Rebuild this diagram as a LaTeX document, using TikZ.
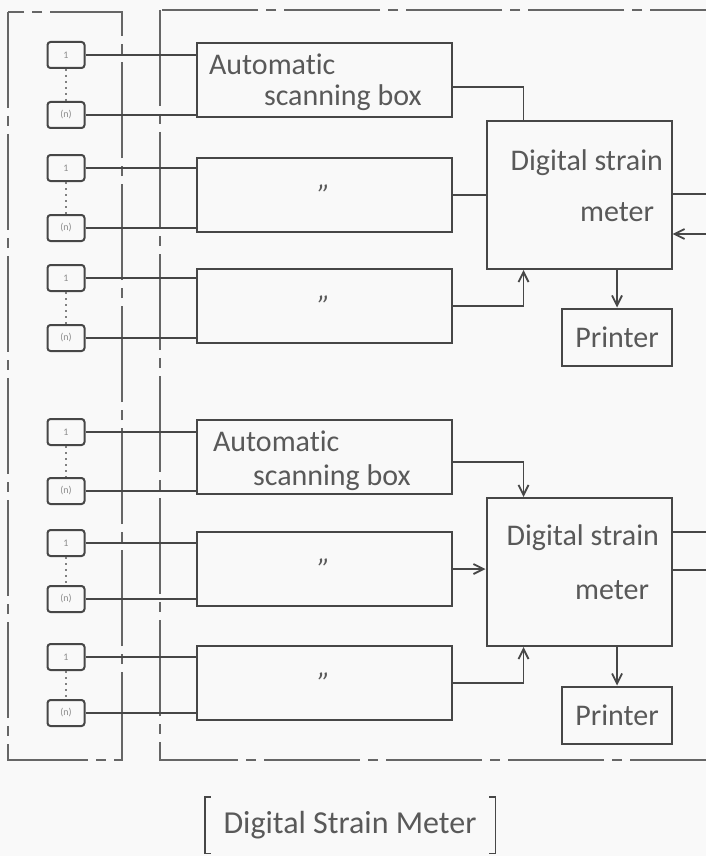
\documentclass[tikz,border=0pt]{standalone}
\usepackage{fontspec}
\setmainfont[Ligatures={TeX,NoCommon}]{Carlito}
\usetikzlibrary{positioning,arrows.meta}

\def\u{0.5pt}

\begin{document}
\begin{tikzpicture}[x=0.5pt,y=-0.5pt,
  every node/.style={font=\fontsize{15}{17}\selectfont, text=black!65},
  boxline/.style={draw=black!72, line width=1pt},
  sensor/.style={boxline, rounded corners=1.5pt, minimum width=37*\u, minimum height=26*\u, inner sep=0pt, font=\fontsize{5}{6}\selectfont, text=black!45},
  scanbox/.style={boxline, minimum width=255*\u, minimum height=74*\u, inner sep=0pt},
  meterbox/.style={boxline, minimum width=185*\u, minimum height=148*\u, inner sep=0pt},
  printbox/.style={boxline, minimum width=110*\u, minimum height=57*\u, inner sep=0pt},
  frame/.style={draw=black!60, line width=0.9pt, dash pattern=on 48pt off 4pt on 5pt off 4pt},
  link/.style={draw=black!72, line width=0.9pt},
  >={Straight Barb[length=5pt,width=5pt]}
]
\useasboundingbox (0,0) rectangle (706,856);
\clip (0,0) rectangle (706,856);
\fill[gray!5] (0,0) rectangle (706,856);

% frames
\draw[frame] (8,12) rectangle (122,760);
\draw[frame] (160,10) rectangle (740,760);

% sensors
\node[sensor] (s1) at (66,55) {1};
\node[sensor] (s2) at (66,115) {(n)};
\node[sensor] (s3) at (66,168) {1};
\node[sensor] (s4) at (66,228) {(n)};
\node[sensor] (s5) at (66,278) {1};
\node[sensor] (s6) at (66,338) {(n)};
\node[sensor] (s7) at (66,432) {1};
\node[sensor] (s8) at (66,491) {(n)};
\node[sensor] (s9) at (66,543) {1};
\node[sensor] (s10) at (66,599) {(n)};
\node[sensor] (s11) at (66,657) {1};
\node[sensor] (s12) at (66,713) {(n)};

\draw[black!50, dotted, line width=1pt] (s1.south) -- (s2.north);
\draw[black!50, dotted, line width=1pt] (s3.south) -- (s4.north);
\draw[black!50, dotted, line width=1pt] (s5.south) -- (s6.north);
\draw[black!50, dotted, line width=1pt] (s7.south) -- (s8.north);
\draw[black!50, dotted, line width=1pt] (s9.south) -- (s10.north);
\draw[black!50, dotted, line width=1pt] (s11.south) -- (s12.north);

% scanning boxes
\node[scanbox] (sc1) at (324,80) {};
\node[anchor=west] (sc1a) at (202,64) {Automatic};
\node[anchor=west] (sc1b) at (257,98) {scanning box};
\node[scanbox] (sc2) at (324,195) {\itshape ''};
\node[scanbox] (sc3) at (324,306) {\itshape ''};

\node[scanbox] (sc4) at (324,457) {};
\node[anchor=west] (sc4a) at (206,441) {Automatic};
\node[anchor=west] (sc4b) at (246,478) {scanning box};
\node[scanbox] (sc5) at (324,569) {\itshape ''};
\node[scanbox] (sc6) at (324,683) {\itshape ''};

% sensor lines
\draw[link] (s1.east) -- (s1.east -| sc1.west);
\draw[link] (s2.east) -- (s2.east -| sc1.west);
\draw[link] (s3.east) -- (s3.east -| sc2.west);
\draw[link] (s4.east) -- (s4.east -| sc2.west);
\draw[link] (s5.east) -- (s5.east -| sc3.west);
\draw[link] (s6.east) -- (s6.east -| sc3.west);
\draw[link] (s7.east) -- (s7.east -| sc4.west);
\draw[link] (s8.east) -- (s8.east -| sc4.west);
\draw[link] (s9.east) -- (s9.east -| sc5.west);
\draw[link] (s10.east) -- (s10.east -| sc5.west);
\draw[link] (s11.east) -- (s11.east -| sc6.west);
\draw[link] (s12.east) -- (s12.east -| sc6.west);

% strain meters and printers
\node[meterbox] (dsm1) at (579,195) {};
\node[anchor=east] (dsm1a) at (670,163) {Digital strain};
\node[anchor=east] (dsm1b) at (661,212) {meter};
\node[printbox] (prn1) at (617,337) {Printer};

\node[meterbox] (dsm2) at (579,572) {};
\node[anchor=east] (dsm2a) at (666,538) {Digital strain};
\node[anchor=east] (dsm2b) at (656,590) {meter};
\node[printbox] (prn2) at (617,715) {Printer};

\coordinate (r1) at (706,194);
\coordinate (r2) at (706,234);
\coordinate (r3) at (706,532);
\coordinate (r4) at (706,570);

% upper unit
\draw[link] ([yshift=-3.5pt]sc1.east) -| ([xshift=19pt]dsm1.north west);
\draw[link] (sc2.east) -- (sc2.east -| dsm1.west);
\draw[link,->] (sc3.east) -| ([xshift=19pt]dsm1.south west);
\draw[link,->] (dsm1.south -| prn1.north) -- (prn1.north);
\draw[link] (dsm1.east |- r1) -- (r1);
\draw[link,->] (r2) -- (dsm1.east |- r2);

% lower unit
\draw[link,->] ([yshift=-2.5pt]sc4.east) -| ([xshift=19pt]dsm2.north west);
\draw[link,->] (sc5.east) -- (sc5.east -| dsm2.west);
\draw[link,->] (sc6.east) -| ([xshift=19pt]dsm2.south west);
\draw[link,->] (dsm2.south -| prn2.north) -- (prn2.north);
\draw[link] (dsm2.east |- r3) -- (r3);
\draw[link] (dsm2.east |- r4) -- (r4);

% caption
\node[minimum width=290*\u, minimum height=56*\u, inner sep=0pt, font=\fontsize{16}{18}\selectfont] (ttl) at (350,825) {Digital Strain Meter};
\draw[link] ([xshift=3pt]ttl.north west) -- (ttl.north west) -- (ttl.south west) -- ([xshift=3pt]ttl.south west);
\draw[link] ([xshift=-3pt]ttl.north east) -- (ttl.north east) -- (ttl.south east) -- ([xshift=-3pt]ttl.south east);
\end{tikzpicture}
\end{document}
